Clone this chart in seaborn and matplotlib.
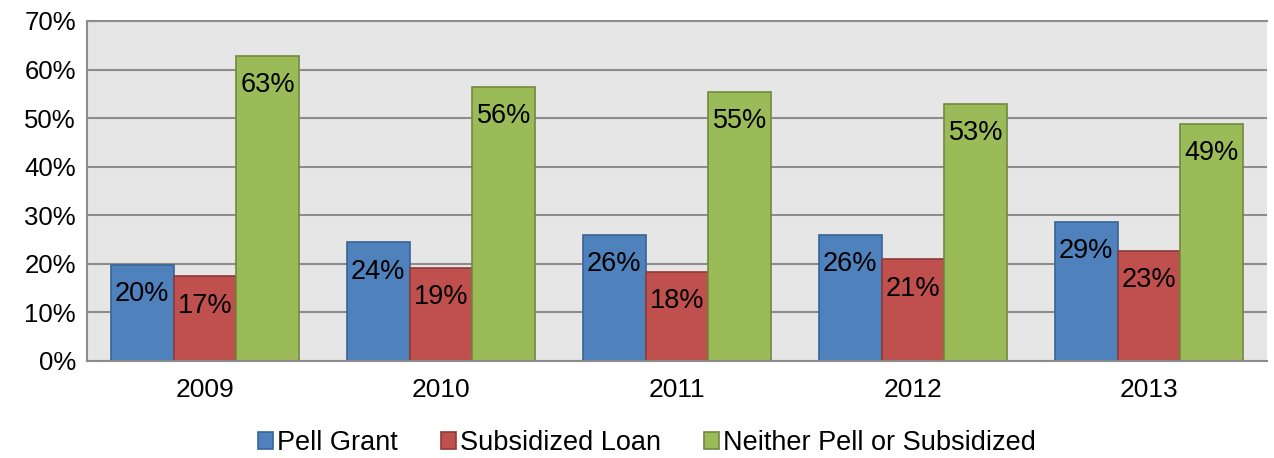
import numpy as np
import pandas as pd
import matplotlib
matplotlib.use("Agg")
import matplotlib.pyplot as plt
import seaborn as sns

years = ["2009", "2010", "2011", "2012", "2013"]
series = ["Pell Grant", "Subsidized Loan", "Neither Pell or Subsidized"]
pell = [19.8, 24.4, 26.0, 26.0, 28.7]
subsidized = [17.4, 19.2, 18.4, 20.9, 22.6]
neither = [62.8, 56.4, 55.3, 52.9, 48.7]
labels = [["20%", "24%", "26%", "26%", "29%"],
          ["17%", "19%", "18%", "21%", "23%"],
          ["63%", "56%", "55%", "53%", "49%"]]

colors = ["#4F81BD", "#C0504D", "#9BBB59"]
edges = ["#3A6496", "#8E3B39", "#71893F"]

df = pd.DataFrame({
    "year": years * 3,
    "type": [s for s in series for _ in years],
    "value": pell + subsidized + neither,
})

sns.set_style("white")
plt.rcParams["font.family"] = ["Liberation Sans", "DejaVu Sans"]
plt.rcParams["text.color"] = "black"

fig = plt.figure(figsize=(12.74, 4.58), dpi=100)
ax = fig.add_axes([87 / 1274, 1 - 361 / 458, 1180 / 1274, 340 / 458])
ax.set_facecolor("#E6E6E6")

sns.barplot(data=df, x="year", y="value", hue="type", hue_order=series,
            palette=colors, width=0.8, gap=0, saturation=1, ax=ax,
            legend=True, linewidth=1.2)

for i, cont in enumerate(ax.containers):
    for j, bar in enumerate(cont):
        bar.set_edgecolor(edges[i])
        h = bar.get_height()
        ax.text(bar.get_x() + bar.get_width() / 2, h - 3.3, labels[i][j],
                ha="center", va="top", fontsize=19.5, color="black")

ax.set_ylim(0, 70)
ax.set_yticks(np.arange(0, 71, 10))
ax.set_yticklabels([f"{v}%" for v in range(0, 71, 10)], fontsize=18.5)
ax.tick_params(axis="x", labelsize=19, length=0, pad=12, labelcolor="black",
               bottom=False)
ax.tick_params(axis="y", length=0, pad=8, labelcolor="black", left=False)
ax.set_xlim(-0.5, 4.5)
ax.set_xlabel("")
ax.set_ylabel("")
ax.yaxis.grid(True, color="#8C8C8C", linewidth=1.5)
ax.set_axisbelow(True)
for side in ["left", "top", "bottom"]:
    ax.spines[side].set_color("#8C8C8C")
    ax.spines[side].set_linewidth(1.5)
ax.spines["right"].set_visible(False)

handles, lbls = ax.get_legend_handles_labels()
ax.legend_.remove()
for h, e in zip(handles, edges):
    h.set_edgecolor(e)
leg = fig.legend(handles, lbls, loc="center", bbox_to_anchor=(0.508, 1 - 443 / 458),
                 ncol=3, frameon=False, fontsize=19.5, handlelength=0.55,
                 handleheight=0.55, handletextpad=0.15, columnspacing=1.6)
for t in leg.get_texts():
    t.set_color("black")

fig.savefig("out.png", dpi=100)
